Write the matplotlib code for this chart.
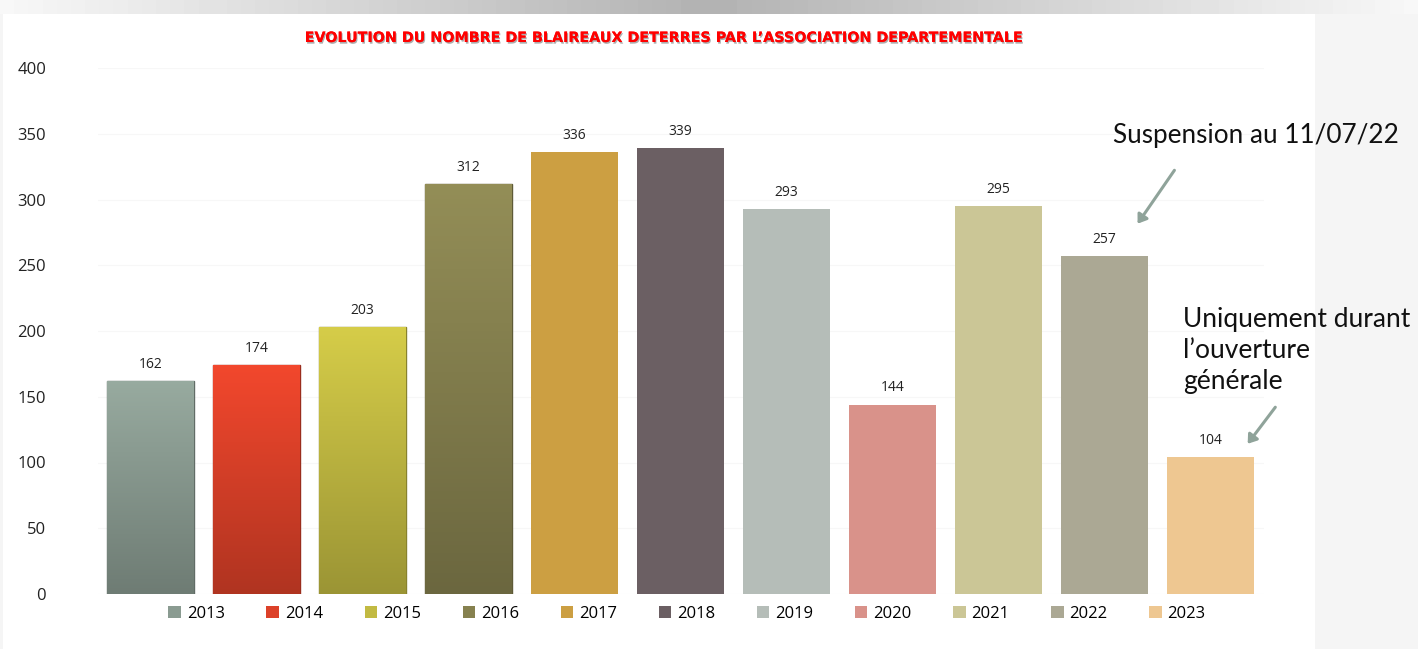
import matplotlib
matplotlib.use("Agg")
import matplotlib.pyplot as plt
import numpy as np
from matplotlib.patches import Rectangle, FancyArrowPatch
import matplotlib.patheffects as pe

years = ["2013", "2014", "2015", "2016", "2017", "2018", "2019", "2020", "2021", "2022", "2023"]
values = [162, 174, 203, 312, 336, 339, 293, 144, 295, 257, 104]
colors = ["#8a9b91", "#dc4129", "#c2ba42", "#86814f", "#cc9f42", "#6b5f63",
          "#b5bdb8", "#d9928a", "#cbc696", "#aba894", "#eec791"]
yticks = [0, 50, 100, 150, 200, 250, 300, 350, 400]
title = "EVOLUTION DU NOMBRE DE BLAIREAUX DETERRES PAR L\u2019ASSOCIATION DEPARTEMENTALE"
note1 = "Suspension au 11/07/22"
note2 = "Uniquement durant\nl\u2019ouverture\ngénérale"

W, H = 1418, 649
fig = plt.figure(figsize=(W / 100, H / 100), dpi=100)
fig.patch.set_facecolor("#f5f5f5")

# background: white panel + top gradient strip
bg = fig.add_axes([0, 0, 1, 1], zorder=-10)
bg.set_xlim(0, W); bg.set_ylim(H, 0); bg.axis("off")
grad = np.concatenate([np.linspace(0, 1, 50), np.linspace(1, 0, 50)])
grad = 0.97 - 0.27 * grad
bg.imshow(grad[None, :], extent=[0, W, 14, 0], cmap="gray", vmin=0, vmax=1, aspect="auto")
bg.add_patch(Rectangle((3, 14), 1312, H - 14, facecolor="white", edgecolor="none"))

# plot axes in pixel coordinates
x0, x1, yb, yt = 97.5, 1263.5, 594, 68
ax = fig.add_axes([x0 / W, 1 - yb / H, (x1 - x0) / W, (yb - yt) / H])
ax.set_facecolor("none")
xs = np.arange(len(years))
bars = ax.bar(xs, values, width=0.82, color=colors, zorder=3)
ax.set_xlim(-0.5, len(years) - 0.5)
ax.set_ylim(0, 400)
ax.set_yticks(yticks)
ax.set_yticklabels([str(t) for t in yticks], fontsize=12, family="Open Sans", color="#222222")
ax.tick_params(axis="y", length=0, pad=37)
ax.tick_params(axis="x", length=0, labelbottom=False)
for s in ax.spines.values():
    s.set_visible(False)
ax.yaxis.grid(True, color="#f7f7f7", lw=0.8, zorder=0)

# gradient/bevel effect for the first four bars
for i in range(4):
    b = bars[i]
    c = np.array(matplotlib.colors.to_rgb(colors[i]))
    light = np.clip(c * 1.1, 0, 1)
    dark = c * 0.8
    t = np.linspace(0, 1, 100)[:, None]
    img = light[None, :] * (1 - t) + dark[None, :] * t
    im = ax.imshow(img[:, None, :], extent=[b.get_x(), b.get_x() + b.get_width(), 0, values[i]],
                   aspect="auto", zorder=3.5, origin="upper")
    im.set_clip_path(b)
    b.set_edgecolor(tuple(c * 0.7))
    b.set_linewidth(1.0)

for x, v in zip(xs, values):
    ax.text(x, v + 7, str(v), ha="center", va="bottom", fontsize=10, family="Open Sans", color="#222222", zorder=5)

# legend
handles = [Rectangle((0, 0), 1, 1, facecolor=c, edgecolor="none") for c in colors]
leg = fig.legend(handles, years, ncol=len(years), loc="center", bbox_to_anchor=(687 / W, 1 - 614 / H),
                 frameon=False, prop={"family": "Open Sans", "size": 12},
                 handlelength=0.75, handleheight=0.75, handletextpad=0.35, columnspacing=2.5)

# title with shadow
fig.text(661 / W, 1 - 38 / H, title, ha="center", va="center", fontsize=10.3, fontweight="bold",
         family="DejaVu Sans", color="#ff0000",
         path_effects=[pe.withSimplePatchShadow(offset=(0.8, -1.2), shadow_rgbFace="#999999", alpha=0.8), pe.Normal()])

# annotations
fig.text(1113 / W, 1 - 135 / H, note1, ha="left", va="center", fontsize=18.8, family="Lato", color="#111111")
fig.text(1183 / W, 1 - 350 / H, note2, ha="left", va="center", fontsize=19, family="Lato",
         color="#111111", linespacing=1.3)
arrow_c = "#8fa39a"
for (sx, sy), (ex, ey) in [((1176, 168), (1136, 226)), ((1277, 405), (1246, 446))]:
    fig.patches.append(FancyArrowPatch((sx / W, 1 - sy / H), (ex / W, 1 - ey / H), transform=fig.transFigure,
                                       arrowstyle="-|>,head_length=5,head_width=3.5", lw=2.2, color=arrow_c))

fig.savefig("out.png", dpi=100)
